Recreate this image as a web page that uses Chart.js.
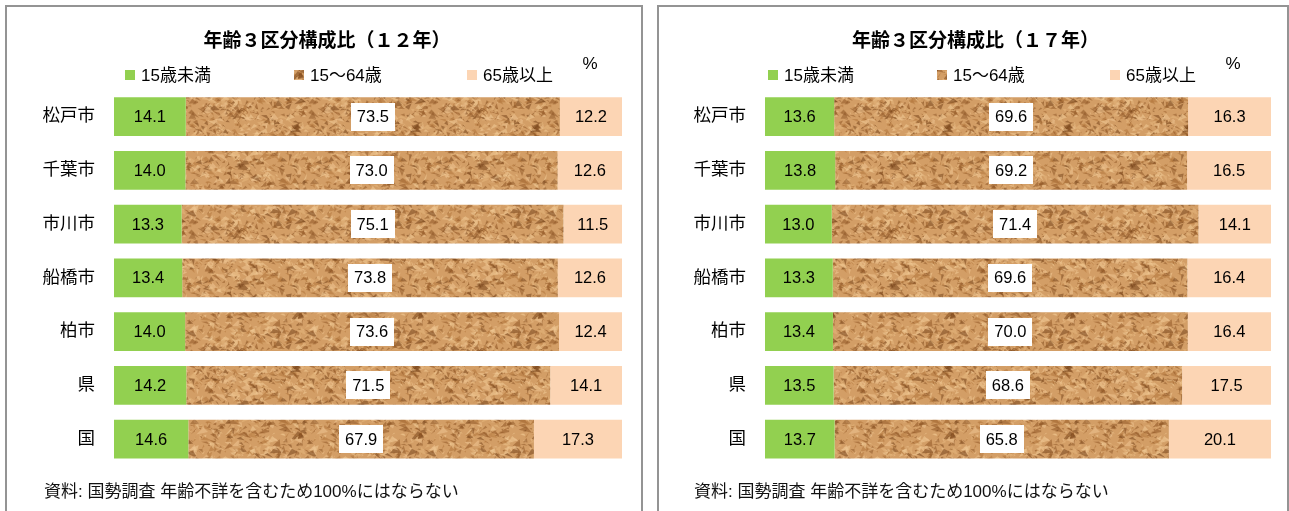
<!DOCTYPE html>
<html lang="ja">
<head>
<meta charset="utf-8">
<script src="https://cdn.jsdelivr.net/npm/chart.js@4.4.1/dist/chart.umd.min.js"></script>
<style>
  html, body { margin: 0; padding: 0; background: #fff; width: 1289px; height: 511px; overflow: hidden; }
  .panel { position: absolute; top: 5px; height: 530px; border: 2px solid #949494; border-bottom: none; background: #fff; }
  .panel canvas { position: absolute; left: 0; top: 0; }
  .note { position: absolute; font-family: 'Liberation Sans', 'Noto Sans CJK JP', sans-serif; font-size: 17px; color: #111; white-space: nowrap; }
</style>
</head>
<body>
<div class="panel" id="p1" style="left:5px;width:634px;">
  <canvas id="c1" width="634" height="504"></canvas>
  <div class="note" style="left:37px;top:470px;">資料: 国勢調査 年齢不詳を含むため100%にはならない</div>
</div>
<div class="panel" id="p2" style="left:657px;width:628px;">
  <canvas id="c2" width="628" height="504"></canvas>
  <div class="note" style="left:35px;top:470px;">資料: 国勢調査 年齢不詳を含むため100%にはならない</div>
</div>
<script>
// ---- data ----
const categories = ['松戸市', '千葉市', '市川市', '船橋市', '柏市', '県', '国'];
const seriesNames = ['15歳未満', '15～64歳', '65歳以上'];
const under15_12 = [14.1, 14.0, 13.3, 13.4, 14.0, 14.2, 14.6];
const working_12 = [73.5, 73.0, 75.1, 73.8, 73.6, 71.5, 67.9];
const over65_12  = [12.2, 12.6, 11.5, 12.6, 12.4, 14.1, 17.3];
const under15_17 = [13.6, 13.8, 13.0, 13.3, 13.4, 13.5, 13.7];
const working_17 = [69.6, 69.2, 71.4, 69.6, 70.0, 68.6, 65.8];
const over65_17  = [16.3, 16.5, 14.1, 16.4, 16.4, 17.5, 20.1];
const title12 = '年齢３区分構成比（１２年）';
const title17 = '年齢３区分構成比（１７年）';
const unitLabel = '%';

// ---- styles ----
const GREEN = '#92D050';
const PEACH = '#FCD5B4';
const LATIN = "'Liberation Sans', 'Noto Sans CJK JP', sans-serif";

function mulberry32(a) {
  return function () {
    a |= 0; a = a + 0x6D2B79F5 | 0;
    let t = Math.imul(a ^ a >>> 15, 1 | a);
    t = t + Math.imul(t ^ t >>> 7, 61 | t) ^ t;
    return ((t ^ t >>> 14) >>> 0) / 4294967296;
  };
}

function makeTextureCanvas() {
  const S = 120;
  const raw = document.createElement('canvas');
  raw.width = S * 3; raw.height = S * 3;
  const g = raw.getContext('2d');
  g.fillStyle = '#D39E66';
  g.fillRect(0, 0, S * 3, S * 3);
  const rnd = mulberry32(20240607);
  const shades = [
    'rgba(150,92,42,0.6)', 'rgba(120,70,28,0.55)', 'rgba(236,194,142,0.6)',
    'rgba(226,178,122,0.65)', 'rgba(178,118,60,0.55)', 'rgba(242,204,152,0.55)',
    'rgba(140,84,36,0.5)'
  ];
  for (let i = 0; i < 1100; i++) {
    const x = rnd() * S, y = rnd() * S, r = 1.5 + rnd() * 4;
    const col = shades[Math.floor(rnd() * shades.length)];
    const a1 = r * 2 * (rnd() - 0.3), b1 = r * (rnd() + 0.5);
    const a2 = -r * (rnd() + 0.5), b2 = r * 2 * (rnd() - 0.2);
    g.fillStyle = col;
    for (let ox = 0; ox <= 3 * S; ox += S) {
      for (let oy = 0; oy <= 3 * S; oy += S) {
        g.beginPath();
        g.moveTo(x + ox, y + oy);
        g.lineTo(x + ox + a1, y + oy + b1);
        g.lineTo(x + ox + a2, y + oy + b2);
        g.closePath();
        g.fill();
      }
    }
  }
  // soften: blur the 3x3 tiled field and cut the centre tile
  const soft = document.createElement('canvas');
  soft.width = S * 3; soft.height = S * 3;
  const sg = soft.getContext('2d');
  sg.filter = 'blur(0.7px)';
  sg.drawImage(raw, 0, 0);
  const c = document.createElement('canvas');
  c.width = S; c.height = S;
  c.getContext('2d').drawImage(soft, S, S, S, S, 0, 0, S, S);
  return c;
}
const textureCanvas = makeTextureCanvas();

const labelsPlugin = {
  id: 'segLabels',
  afterDatasetsDraw(chart) {
    const ctx = chart.ctx;
    ctx.save();
    ctx.font = '16.5px ' + LATIN;
    ctx.textBaseline = 'middle';
    ctx.textAlign = 'center';
    chart.data.datasets.forEach((ds, di) => {
      const meta = chart.getDatasetMeta(di);
      meta.data.forEach((bar, i) => {
        const txt = ds.rawValues[i].toFixed(1);
        const cx = (bar.x + bar.base) / 2;
        const cy = bar.y;
        if (di === 1) {
          const w = ctx.measureText(txt).width + 12;
          const h = 28;
          ctx.fillStyle = '#fff';
          ctx.fillRect(Math.round(cx - w / 2), Math.round(cy - h / 2), Math.round(w), h);
        }
        ctx.fillStyle = '#000';
        ctx.fillText(txt, cx, cy + 1);
      });
    });
    ctx.restore();
  }
};

const legendPlugin = {
  id: 'customLegend',
  afterDraw(chart, args, opts) {
    const ctx = chart.ctx;
    const left = chart.chartArea.left + opts.shift;
    const offsets = [11, 180, 353];
    ctx.save();
    ctx.font = '17px ' + LATIN;
    ctx.textBaseline = 'middle';
    ctx.textAlign = 'left';
    chart.data.datasets.forEach((ds, di) => {
      const x = left + offsets[di];
      const y = 68;
      ctx.fillStyle = ds.backgroundColor;
      ctx.fillRect(x, y - 5, 10, 10);
      ctx.fillStyle = '#000';
      ctx.fillText(ds.label, x + 16, y + 1);
    });
    ctx.textAlign = 'center';
    ctx.font = '17px ' + LATIN;
    ctx.fillText(unitLabel, left + 476, 57);
    ctx.restore();
  }
};

function buildChart(id, title, a, b, c, padLeft, yWidth, padRight, shift) {
  const canvas = document.getElementById(id);
  const ctx = canvas.getContext('2d');
  const pattern = ctx.createPattern(textureCanvas, 'repeat');
  const totals = a.map((v, i) => v + b[i] + c[i]);
  const norm = arr => arr.map((v, i) => v / totals[i] * 100);
  return new Chart(canvas, {
    type: 'bar',
    data: {
      labels: categories,
      datasets: [
        { label: seriesNames[0], data: norm(a), rawValues: a, backgroundColor: GREEN },
        { label: seriesNames[1], data: norm(b), rawValues: b, backgroundColor: pattern },
        { label: seriesNames[2], data: norm(c), rawValues: c, backgroundColor: PEACH }
      ]
    },
    options: {
      indexAxis: 'y',
      responsive: false,
      animation: false,
      events: [],
      datasets: { bar: { barPercentage: 0.72, categoryPercentage: 1.0, borderWidth: 0 } },
      layout: { padding: { left: padLeft, right: padRight, top: 0, bottom: 45 } },
      scales: {
        x: { stacked: true, min: 0, max: 100, display: false },
        y: {
          stacked: true,
          grid: { display: false, drawTicks: false },
          border: { display: false },
          ticks: { padding: 19, color: '#000', font: { size: 17.5, family: LATIN } },
          afterFit(scale) { scale.width = yWidth; }
        }
      },
      plugins: {
        legend: { display: false },
        tooltip: { enabled: false },
        title: {
          display: true,
          text: title,
          color: '#000',
          font: { size: 19, weight: 'bold', family: "'Noto Sans CJK JP', sans-serif" },
          padding: { top: 21, bottom: 39 }
        },
        customLegend: { shift: shift }
      }
    },
    plugins: [labelsPlugin, legendPlugin]
  });
}

buildChart('c1', title12, under15_12, working_12, over65_12, 25, 82, 19, 0);
buildChart('c2', title17, under15_17, working_17, over65_17, 21, 85, 16, -8);
</script>
</body>
</html>
